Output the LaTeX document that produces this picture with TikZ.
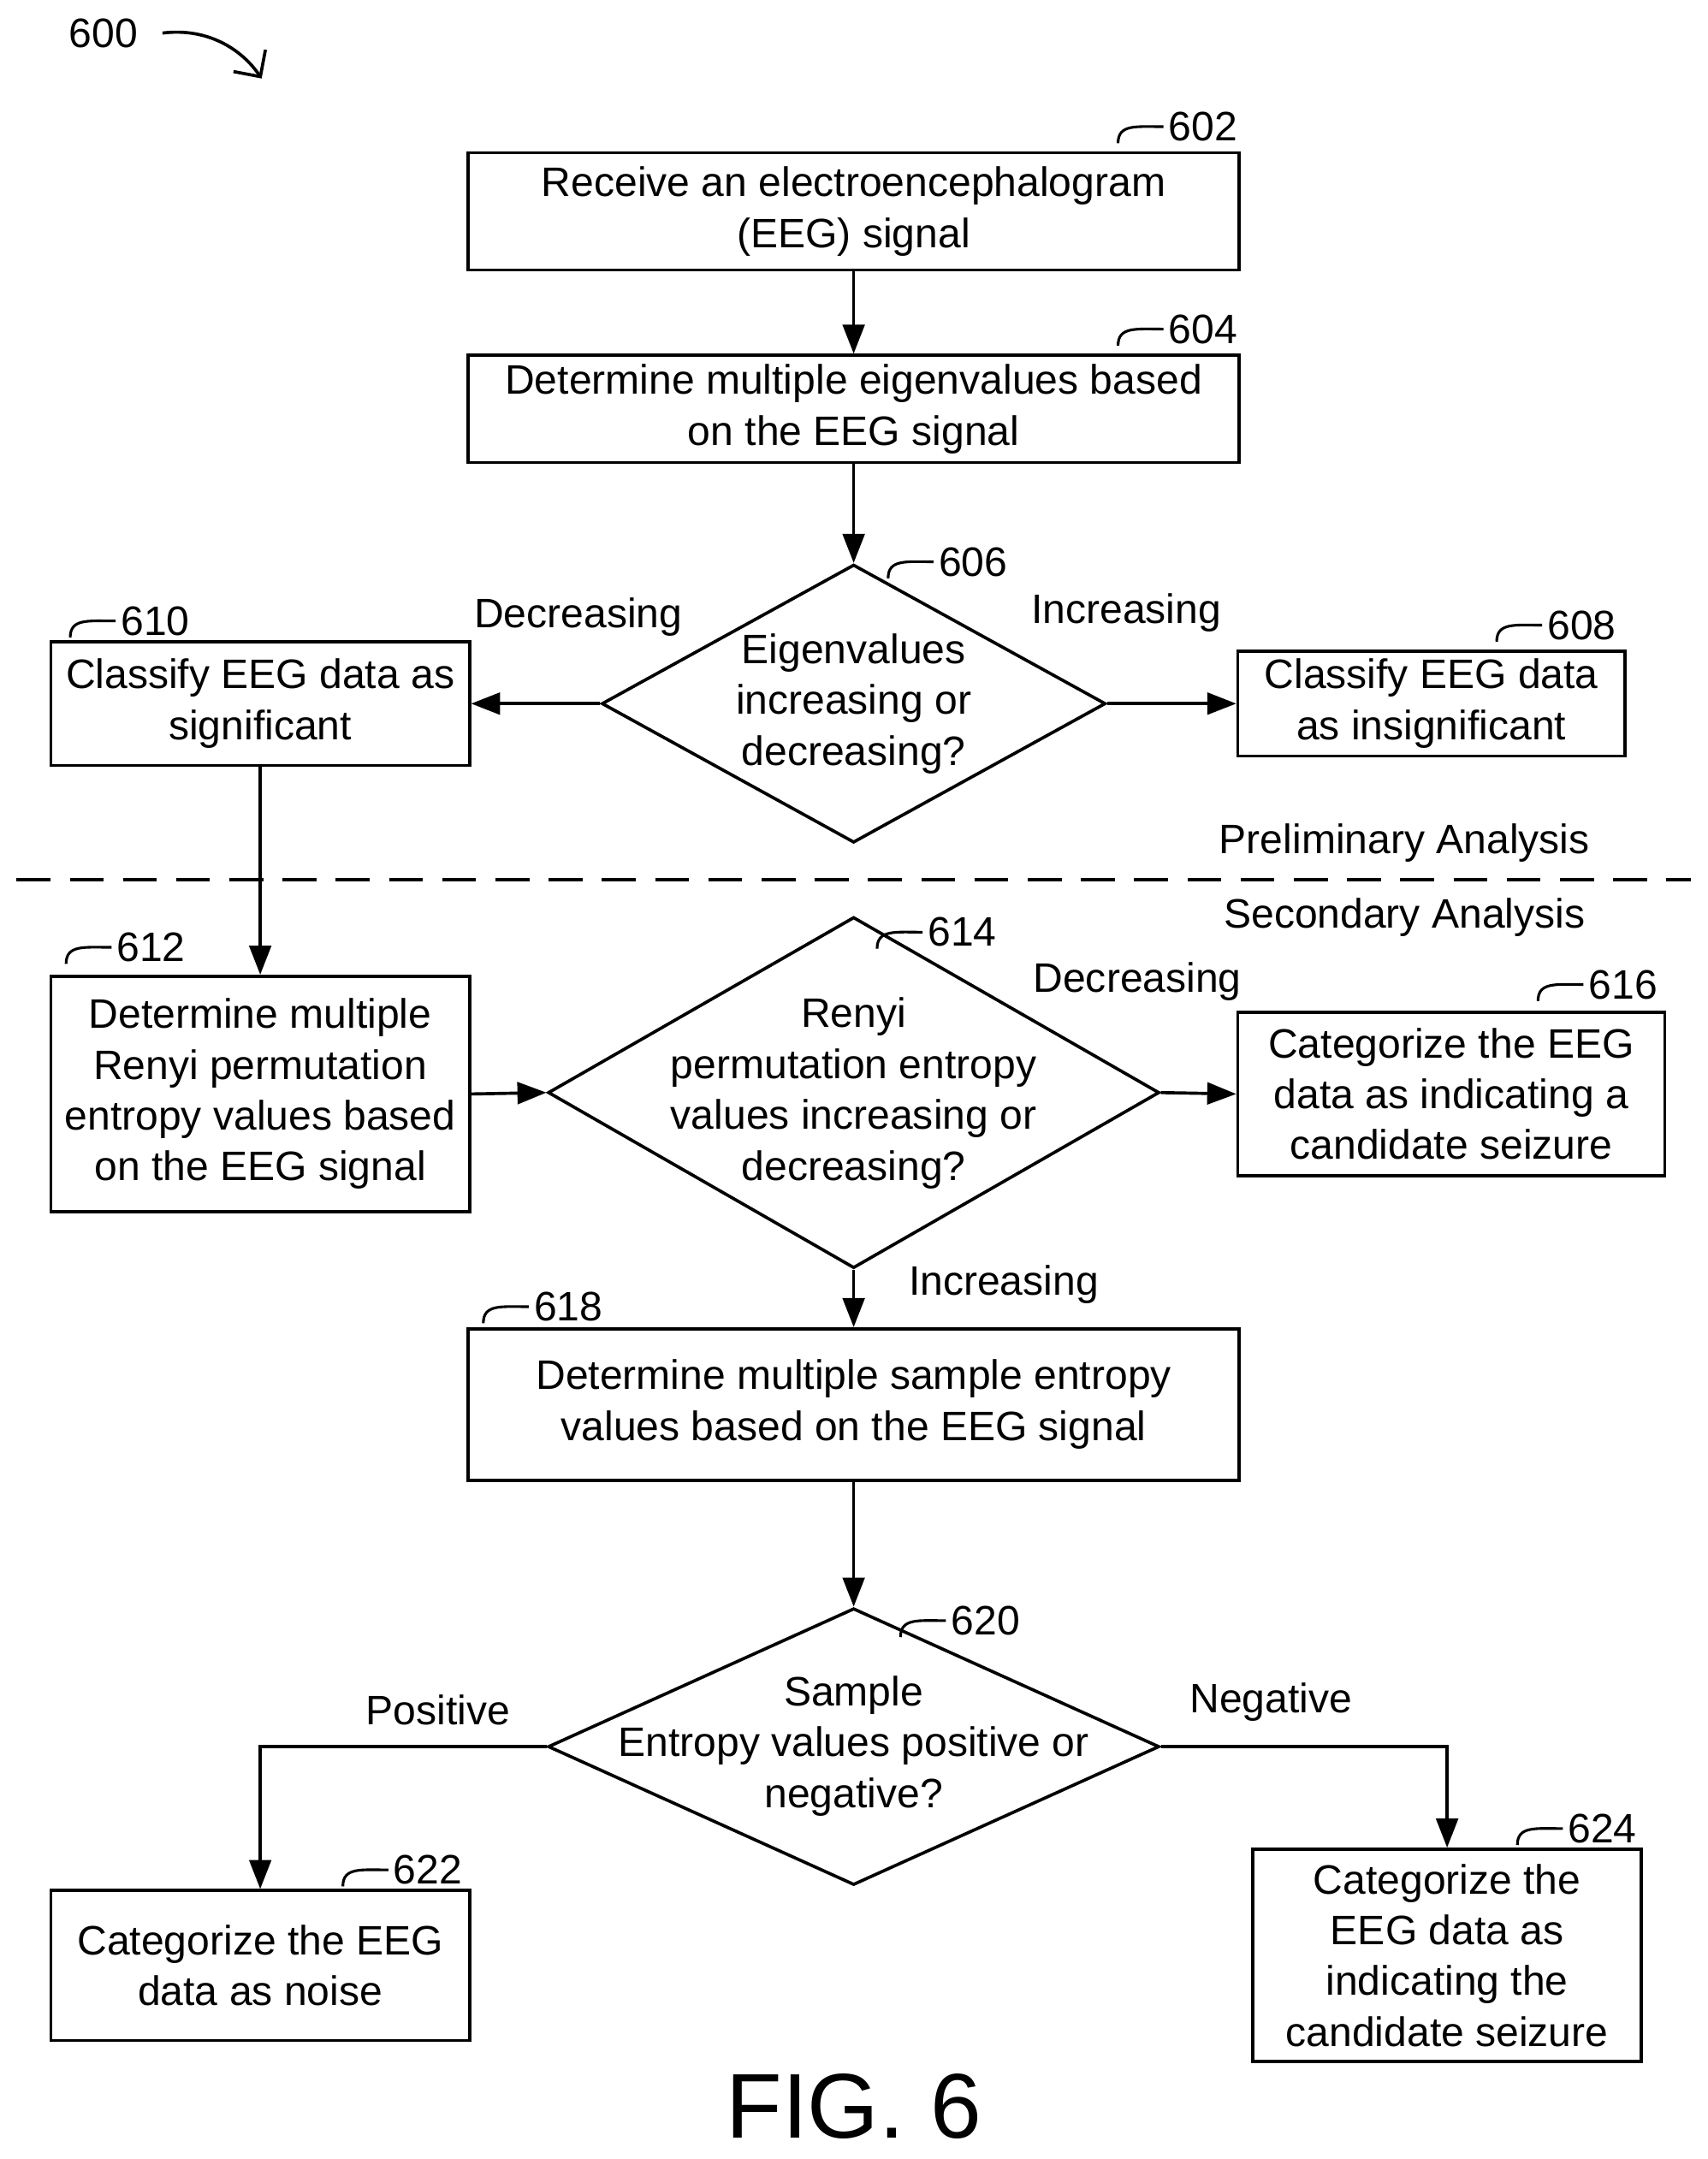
\documentclass[tikz,border=0pt]{standalone}
\usepackage{fontspec}
\setmainfont{Liberation Sans}
\usetikzlibrary{shapes.geometric,arrows.meta}
\begin{document}
\begin{tikzpicture}[x=0.02cm,y=-0.02cm,
  every node/.style={font=\fontsize{17}{21}\selectfont},
  box/.style={draw,line width=1.3pt,align=center,inner sep=0},
  dia/.style={draw,line width=1.3pt,diamond,inner sep=0,aspect=1},
  arr/.style={line width=1.3pt,-{Triangle[length=12pt,width=9pt]}},
  lead/.style={line width=1.1pt}]
\useasboundingbox (0,0) rectangle (1240,1568);
\newcommand\boxat[6]{\node[box,minimum width=#4*0.02cm,minimum height=#5*0.02cm] (#1) at (#2,#3) {#6};}
\newcommand\refno[3]{\draw[lead] (#2-33,#3+12) .. controls (#2-33,#3-2) and (#2-20,#3) .. (#2,#3);\node[anchor=west,inner sep=2pt] at (#2,#3) {#1};}
% boxes
\boxat{b602}{620}{153.5}{560}{85}{Receive an electroencephalogram\\(EEG) signal}
\boxat{b604}{620}{297}{560}{78}{Determine multiple eigenvalues based\\on the EEG signal}
\boxat{b610}{189}{511}{304}{90}{Classify EEG data as\\significant}
\boxat{b608}{1039.5}{511}{281}{76}{Classify EEG data\\as insignificant}
\boxat{b612}{189}{794.5}{304}{171}{Determine multiple\\Renyi permutation\\entropy values based\\on the EEG signal}
\boxat{b616}{1054}{794.5}{310}{119}{Categorize the EEG\\data as indicating a\\candidate seizure}
\boxat{b618}{620}{1020}{560}{110}{Determine multiple sample entropy\\values based on the EEG signal}
\boxat{b622}{189}{1427.5}{304}{109}{Categorize the EEG\\data as noise}
\boxat{b624}{1051}{1420}{282}{154}{Categorize the\\EEG data as\\indicating the\\candidate seizure}
% diamonds
\node[dia,minimum width=366*0.02cm,minimum height=202*0.02cm] (d606) at (620,511) {};
\node[align=center] at (620,511) {Eigenvalues\\increasing or\\decreasing?};
\node[dia,minimum width=444*0.02cm,minimum height=255*0.02cm] (d614) at (620,793.5) {};
\node[align=center] at (620,794) {Renyi\\permutation entropy\\values increasing or\\decreasing?};
\node[dia,minimum width=444*0.02cm,minimum height=201*0.02cm] (d620) at (620,1268.5) {};
\node[align=center] at (620,1268) {Sample\\Entropy values positive or\\negative?};
% connectors
\draw[arr] (b602) -- (b604);
\draw[arr] (b604) -- (d606);
\draw[arr] (d606.west) -- (b610.east);
\draw[arr] (d606.east) -- (b608.west);
\draw[arr] (b610) -- (b612);
\draw[arr] (b612.east) -- (d614.west);
\draw[arr] (d614.east) -- (b616.west);
\draw[arr] (d614.south) -- (b618.north);
\draw[arr] (b618) -- (d620);
\draw[arr] (d620.west) -| (b622.north);
\draw[arr] (d620.east) -| (b624.north);
% edge labels
\node at (420,448) {Decreasing};
\node at (818,445) {Increasing};
\node at (826,713) {Decreasing};
\node at (729,933) {Increasing};
\node at (318,1242) {Positive};
\node at (923,1236) {Negative};
% dashed separator
\draw[line width=1.3pt,dash pattern=on 14pt off 8pt] (12,639) -- (1228,639);
\node at (1020,612) {Preliminary Analysis};
\node at (1020,666) {Secondary Analysis};
% ref numbers
\refno{602}{845}{92}
\refno{604}{845}{239}
\refno{606}{678}{408}
\refno{610}{84}{451}
\refno{608}{1120}{454}
\refno{612}{81}{688}
\refno{614}{670}{677}
\refno{616}{1150}{715}
\refno{618}{384}{949}
\refno{620}{687}{1177}
\refno{622}{282}{1358}
\refno{624}{1135}{1328}
% 600
\node at (75,24) {600};
\draw[line width=1.3pt,-{Straight Barb[length=8pt]}] (118,24) .. controls (150,20) and (175,35) .. (190,57);
\node[font=\fontsize{38}{44}\selectfont] at (620,1530) {FIG. 6};
\end{tikzpicture}
\end{document}
